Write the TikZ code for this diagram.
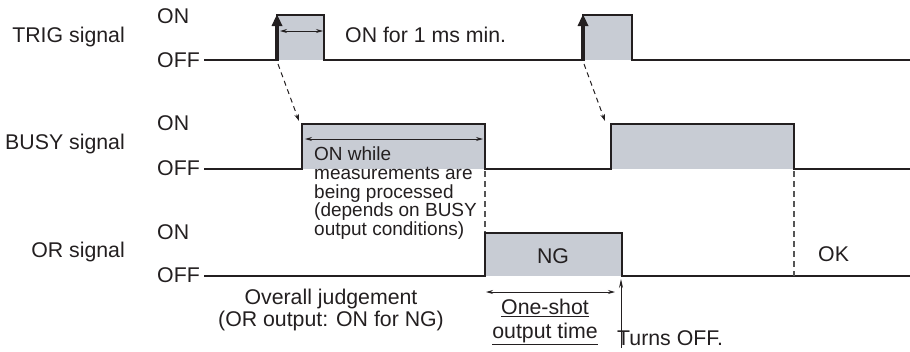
\documentclass[tikz,border=0pt]{standalone}
\usepackage{fontspec}
\setmainfont{Liberation Sans}
\usetikzlibrary{arrows.meta,positioning,calc}
\definecolor{ink}{RGB}{35,31,32}
\definecolor{pulsegray}{RGB}{200,204,212}
\definecolor{dashgray}{RGB}{85,85,85}

\begin{document}
\begin{tikzpicture}[x=1pt, y=-1pt, >=Stealth]
        \tikzset{
            lbl/.style={font=\fontsize{21.3}{24}\selectfont, inner sep=0pt, text=ink},
            note/.style={font=\fontsize{19}{18.6}\selectfont, inner sep=0pt, align=left, text=ink},
            wave/.style={draw=ink, line width=1.8pt, line join=miter},
            pulse/.style={fill=pulsegray},
            dimline/.style={<->, >={Stealth[length=7pt, width=4pt]}, line width=0.9pt, draw=ink},
            cause/.style={->, >={Stealth[length=7pt, width=4.5pt]}, dashed, dash pattern=on 5pt off 4pt, line width=1pt, draw=ink},
            follow/.style={dashed, dash pattern=on 6pt off 4pt, line width=1.2pt, draw=dashgray},
            trigger/.style={-{Triangle[length=12pt, width=10pt]}, line width=4pt, draw=ink},
            marker/.style={->, >={Stealth[length=9pt, width=4pt]}, line width=0.9pt, draw=ink}
        }
        \useasboundingbox (0,0) rectangle (910,351);

        % Signal names and levels
        \node [lbl, anchor=east] (trigname) at (125,37) {TRIG signal};
        \node [lbl, anchor=east] (busyname) at (125,144) {BUSY signal};
        \node [lbl, anchor=east] (orname) at (125,252) {OR signal};
        \node [lbl, anchor=west] (trigon) at (157,16) {ON};
        \node [lbl, anchor=west] (trigoff) at (157,60) {OFF};
        \node [lbl, anchor=west] (busyon) at (157,123) {ON};
        \node [lbl, anchor=west] (busyoff) at (157,168) {OFF};
        \node [lbl, anchor=west] (oron) at (157,232) {ON};
        \node [lbl, anchor=west] (oroff) at (157,275) {OFF};

        % Pulse areas
        \fill [pulse] (277,15) rectangle (324,60);
        \fill [pulse] (583,15) rectangle (632,60);
        \fill [pulse] (302,124) rectangle (485,169);
        \fill [pulse] (611,124) rectangle (794,169);
        \fill [pulse] (485,233) rectangle (622,276);

        % Waveforms
        \draw [wave] (204,60) -- (277,60) -- (277,15) -- (324,15) -- (324,60) -- (583,60) -- (583,15) -- (632,15) -- (632,60) -- (910,60);
        \draw [wave] (204,169) -- (302,169) -- (302,124) -- (485,124) -- (485,169) -- (611,169) -- (611,124) -- (794,124) -- (794,169) -- (910,169);
        \draw [wave] (204,276) -- (485,276) -- (485,233) -- (622,233) -- (622,276) -- (910,276);

        % Trigger edges
        \coordinate (rise1) at (277,61);
        \coordinate (rise2) at (583,61);
        \draw [trigger] (rise1) -- (277,14);
        \draw [trigger] (rise2) -- (583,14);

        % TRIG to BUSY
        \coordinate (busy1) at (299,121);
        \coordinate (busy2) at (605,121);
        \draw [cause] ($(rise1)+(1,3)$) -- (busy1);
        \draw [cause] ($(rise2)+(1,3)$) -- (busy2);

        % BUSY to OR
        \draw [follow] (485,171) -- (485,232);
        \draw [follow] (794,171) -- (794,276);

        % Durations
        \draw [dimline] (280,31) -- (323,31);
        \draw [dimline] (305,139) -- (483,139);
        \draw [dimline] (486,292) -- (615,292);
        \draw [marker] (621,348) -- (621,279);

        % Texts
        \node [lbl, anchor=west] (minon) at (345,35) {ON for 1 ms min.};
        \node [note, anchor=north west] (busytext) at (314,147) {ON while\\measurements are\\being processed\\(depends on BUSY\\output conditions)};
        \node [lbl] (ng) at (553,256) {NG};
        \node [lbl, anchor=west] (ok) at (818,254) {OK};
        \node [lbl, align=center, font=\fontsize{21.3}{22.5}\selectfont] (overall) at (331,310) {Overall judgement\\(OR output: ON for NG)};
        \node [lbl, align=center, font=\fontsize{21.3}{23.5}\selectfont] (oneshot) at (545,322) {\underline{One-shot}\\\underline{output time}};
        \node [lbl, anchor=base west] (turnsoff) at (617,345) {Turns OFF.};
\end{tikzpicture}
\end{document}
